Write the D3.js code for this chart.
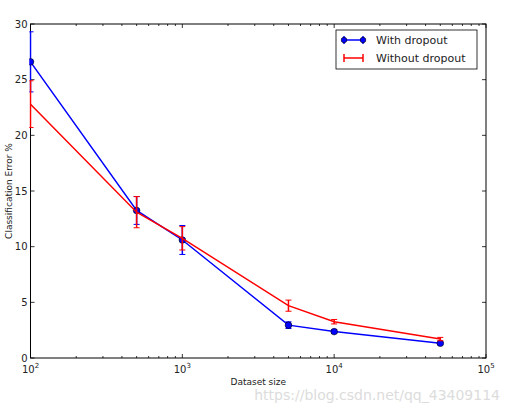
<!DOCTYPE html>
<html>
<head>
<meta charset="utf-8">
<script src="https://cdn.jsdelivr.net/npm/d3@7"></script>
<style>
  body { margin: 0; background: #fff; }
  text { font-family: "DejaVu Sans", sans-serif; fill: #222; }
</style>
</head>
<body>
<svg id="chart"></svg>
<script>
// data
const sizes = [100, 500, 1000, 5000, 10000, 50000];
const withDropout = [26.6, 13.25, 10.6, 2.95, 2.37, 1.32];
const withDropoutErr = [2.7, 1.25, 1.3, 0.3, 0.15, 0.1];
const withoutDropout = [22.8, 13.1, 10.75, 4.7, 3.26, 1.7];
const withoutDropoutErr = [2.1, 1.4, 1.05, 0.5, 0.2, 0.15];
const yTicks = [0, 5, 10, 15, 20, 25, 30];
const xTicks = [100, 1000, 10000, 100000];

const width = 510, height = 412;
const padLeft = 30.5, padRight = 486, padTop = 24, padBottom = 358;

const svg = d3.select('#chart').attr('width', width).attr('height', height);

const xScale = d3.scaleLog().domain([100, 100000]).range([padLeft, padRight]);
const yScale = d3.scaleLinear().domain([0, 30]).range([padBottom, padTop]);

// clip a hair wider than the frame so the bars sitting on the left edge still show
svg.append('clipPath').attr('id', 'plot')
  .append('rect').attr('x', padLeft - 1.2).attr('y', padTop)
  .attr('width', padRight - padLeft + 1.2).attr('height', padBottom - padTop);

// axes: ticks point inward, on all four sides
const minor = [];
for (let d = 100; d < 100000; d *= 10) for (let k = 2; k < 10; k++) minor.push(d * k);

const drawX = (g, pos, dir, labels) => {
  const ax = g.append('g').attr('transform', 'translate(0,' + pos + ')');
  ax.selectAll('.maj').data(xTicks).enter().append('line')
    .attr('x1', d => xScale(d)).attr('x2', d => xScale(d))
    .attr('y1', 0).attr('y2', dir * 4).attr('stroke', '#000').attr('stroke-width', 0.8);
  ax.selectAll('.min').data(minor).enter().append('line')
    .attr('x1', d => xScale(d)).attr('x2', d => xScale(d))
    .attr('y1', 0).attr('y2', dir * 2).attr('stroke', '#000').attr('stroke-width', 0.8);
  if (labels) {
    const t = ax.selectAll('text').data(xTicks).enter().append('text')
      .attr('x', d => xScale(d)).attr('y', 15).attr('text-anchor', 'middle')
      .attr('font-size', 10);
    t.append('tspan').text('10');
    t.append('tspan').attr('dy', -5).attr('font-size', 7).text(d => Math.round(Math.log10(d)));
  }
};
const drawY = (g, pos, dir, labels) => {
  const ax = g.append('g').attr('transform', 'translate(' + pos + ',0)');
  ax.selectAll('line').data(yTicks).enter().append('line')
    .attr('y1', d => yScale(d)).attr('y2', d => yScale(d))
    .attr('x1', 0).attr('x2', dir * 4).attr('stroke', '#000').attr('stroke-width', 0.8);
  if (labels) {
    ax.selectAll('text').data(yTicks).enter().append('text')
      .attr('x', -3).attr('y', d => yScale(d) + 3.5).attr('text-anchor', 'end')
      .attr('font-size', 10).text(d => d);
  }
};

// frame first, series drawn over it like in the reference
svg.append('rect').attr('x', padLeft).attr('y', padTop)
  .attr('width', padRight - padLeft).attr('height', padBottom - padTop)
  .attr('fill', 'none').attr('stroke', '#000').attr('stroke-width', 1);

const axes = svg.append('g');
drawX(axes, padBottom, -1, true);
drawX(axes, padTop, 1, false);
drawY(axes, padLeft, 1, true);
drawY(axes, padRight, -1, false);

// series
const series = [
  { name: 'With dropout', vals: withDropout, err: withDropoutErr, color: '#0000ff', marker: true },
  { name: 'Without dropout', vals: withoutDropout, err: withoutDropoutErr, color: '#ff0000', marker: false }
];
const plot = svg.append('g').attr('clip-path', 'url(#plot)');
const line = d3.line().x(d => xScale(d[0])).y(d => yScale(d[1]));

series.forEach(s => {
  const pts = sizes.map((x, i) => [x, s.vals[i], s.err[i]]);
  const g = plot.append('g');
  g.append('path').datum(pts).attr('d', line)
    .attr('fill', 'none').attr('stroke', s.color).attr('stroke-width', 1.5);
  const eb = g.selectAll('.eb').data(pts).enter().append('g');
  eb.append('line')
    .attr('x1', d => xScale(d[0])).attr('x2', d => xScale(d[0]))
    .attr('y1', d => yScale(d[1] - d[2])).attr('y2', d => yScale(d[1] + d[2]))
    .attr('stroke', s.color).attr('stroke-width', 1.5);
  [-1, 1].forEach(sg => {
    eb.append('line')
      .attr('x1', d => xScale(d[0]) - 3).attr('x2', d => xScale(d[0]) + 3)
      .attr('y1', d => yScale(d[1] + sg * d[2])).attr('y2', d => yScale(d[1] + sg * d[2]))
      .attr('stroke', s.color).attr('stroke-width', 1);
  });
  if (s.marker) {
    g.selectAll('circle').data(pts).enter().append('circle')
      .attr('cx', d => xScale(d[0])).attr('cy', d => yScale(d[1])).attr('r', 3.3)
      .attr('fill', s.color).attr('stroke', '#000').attr('stroke-width', 0.6);
  }
});

// axis titles
svg.append('text').attr('x', (padLeft + padRight) / 2).attr('y', 385)
  .attr('text-anchor', 'middle').attr('font-size', 9).text('Dataset size');
svg.append('text').attr('transform', 'translate(12,' + ((padTop + padBottom) / 2) + ') rotate(-90)')
  .attr('text-anchor', 'middle').attr('font-size', 9).text('Classification Error %');

// legend
const lg = svg.append('g').attr('transform', 'translate(336,30)');
lg.append('rect').attr('width', 141).attr('height', 39)
  .attr('fill', '#fff').attr('stroke', '#000').attr('stroke-width', 0.8);
series.forEach((s, i) => {
  const y = 10 + i * 18;
  const x1 = 8, x2 = 27;
  lg.append('line').attr('x1', x1).attr('x2', x2).attr('y1', y).attr('y2', y)
    .attr('stroke', s.color).attr('stroke-width', 1.5);
  [x1, x2].forEach(x => {
    lg.append('line').attr('x1', x).attr('x2', x).attr('y1', y - 4).attr('y2', y + 4)
      .attr('stroke', s.color).attr('stroke-width', 1.5);
    if (s.marker) {
      lg.append('circle').attr('cx', x).attr('cy', y).attr('r', 2.8)
        .attr('fill', s.color).attr('stroke', '#000').attr('stroke-width', 0.6);
    }
  });
  lg.append('text').attr('x', 40).attr('y', y + 4).attr('font-size', 11).text(s.name);
});

// watermark
svg.append('text').attr('x', 500).attr('y', 400).attr('text-anchor', 'end')
  .attr('font-family', 'Liberation Sans, Arial, sans-serif')
  .attr('font-size', 14).style('fill', '#dcdcdc').text('https://blog.csdn.net/qq_43409114');
</script>
</body>
</html>
